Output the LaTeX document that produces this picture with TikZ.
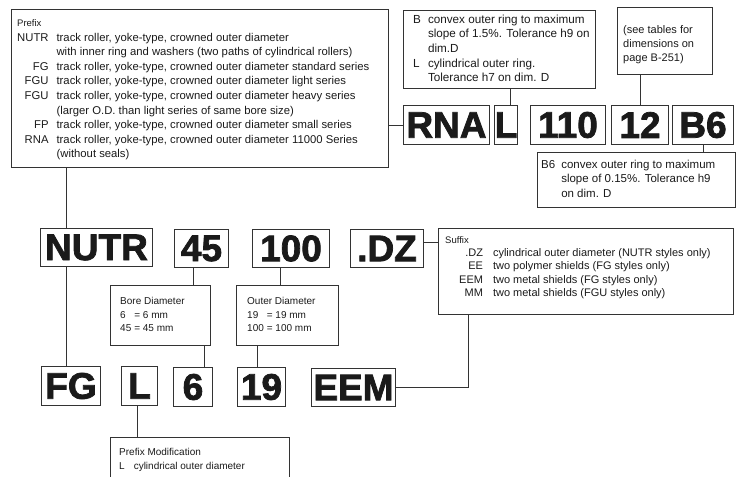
\documentclass[tikz,border=0pt]{standalone}
\usepackage{fontspec}
\setmainfont{Liberation Sans}
\newfontfamily\codefont[FakeBold=2]{Liberation Sans Bold}
\usetikzlibrary{calc}
\definecolor{linecol}{HTML}{333333}
\definecolor{txt}{HTML}{1A1A1A}
\tikzset{
  frame/.style={draw=linecol, line width=1pt, inner sep=0pt, anchor=north west},
  codebox/.style={frame, font=\codefont\fontsize{37}{37}\selectfont, text=txt},
  txtblock/.style={anchor=north west, inner sep=0pt, text=txt, align=left},
  conn/.style={draw=linecol, line width=1pt},
}
\begin{document}
\begin{tikzpicture}[x=1pt,y=-1pt]
\useasboundingbox (0,0) rectangle (737,477);
\clip (0,0) rectangle (737,477);
% ---------- frames ----------
\node[frame, minimum width=377, minimum height=158] (prefixbox) at (11,9) {};
\node[frame, minimum width=192, minimum height=78] (bl) at (403,10) {};
\node[frame, minimum width=95, minimum height=67] (see) at (617,7) {};
\node[frame, minimum width=198, minimum height=55] (b6desc) at (537,152) {};
\node[frame, minimum width=295, minimum height=86] (suffix) at (438,228) {};
\node[frame, minimum width=100, minimum height=60] (bore) at (110,285) {};
\node[frame, minimum width=102, minimum height=60] (outer) at (236,285) {};
\node[frame, minimum width=179, minimum height=60] (pm) at (110,437) {};
% ---------- code boxes ----------
\node[codebox, minimum width=86, minimum height=39] (rna) at (403,105) {RNA};
\node[codebox, minimum width=23, minimum height=39] (ltop) at (494,105) {L};
\node[codebox, minimum width=75, minimum height=39] (n110) at (530,105) {110};
\node[codebox, minimum width=57, minimum height=39] (twelve) at (611,105) {12};
\node[codebox, minimum width=61, minimum height=39] (b6) at (672,105) {B6};
\node[codebox, minimum width=112, minimum height=38] (nutr) at (40,228) {NUTR};
\node[codebox, minimum width=54, minimum height=38] (n45) at (174,229) {45};
\node[codebox, minimum width=77, minimum height=38] (n100) at (252,229) {100};
\node[codebox, minimum width=73, minimum height=38] (dz) at (350,229) {.DZ};
\node[codebox, minimum width=59, minimum height=39] (fg) at (41,366) {FG};
\node[codebox, minimum width=36, minimum height=39] (lbot) at (121,366) {L};
\node[codebox, minimum width=39, minimum height=39] (six) at (173,367) {6};
\node[codebox, minimum width=48, minimum height=39] (nineteen) at (237,367) {19};
\node[codebox, minimum width=84, minimum height=38] (eem) at (311,368) {EEM};
% ---------- texts ----------
\node[txtblock, font=\fontsize{11.3}{14.6}\selectfont] (prefixtxt) at (17,16) {%
\begin{tabular}{@{}r@{\hspace{8pt}}l@{}}
\multicolumn{2}{@{}l}{\fontsize{9.5}{14.6}\selectfont Prefix}\\
NUTR & track roller, yoke-type, crowned outer diameter\\
 & with inner ring and washers (two paths of cylindrical rollers)\\
FG & track roller, yoke-type, crowned outer diameter standard series\\
FGU & track roller, yoke-type, crowned outer diameter light series\\
FGU & track roller, yoke-type, crowned outer diameter heavy series\\
 & (larger O.D. than light series of same bore size)\\
FP & track roller, yoke-type, crowned outer diameter small series\\
RNA & track roller, yoke-type, crowned outer diameter 11000 Series\\
 & (without seals)
\end{tabular}};
\node[txtblock, font=\fontsize{11.7}{14.6}\selectfont] (bltxt) at (413,12.8) {%
\begin{tabular}{@{}l@{\hspace{7pt}}l@{}}
B & convex outer ring to maximum\\
 & slope of 1.5\%. Tolerance h9 on\\
 & dim.D\\
L & cylindrical outer ring.\\
 & Tolerance h7 on dim. D
\end{tabular}};
\node[txtblock, font=\fontsize{11}{14}\selectfont] (seetxt) at (623,23.4) {%
\begin{tabular}{@{}l@{}}
(see tables for\\
dimensions on\\
page B-251)
\end{tabular}};
\node[txtblock, font=\fontsize{11.5}{14.5}\selectfont] (b6txt) at (541,157.8) {%
\begin{tabular}{@{}l@{\hspace{6pt}}l@{}}
B6 & convex outer ring to maximum\\
 & slope of 0.15\%. Tolerance h9\\
 & on dim. D
\end{tabular}};
\node[txtblock, font=\fontsize{11}{13.4}\selectfont] (suffixtxt) at (459,233.6) {%
\begin{tabular}{@{}r@{\hspace{10pt}}l@{}}
\multicolumn{2}{@{\hspace*{-14pt}}l}{\fontsize{9.5}{13.4}\selectfont Suffix}\\
.DZ & cylindrical outer diameter (NUTR styles only)\\
EE & two polymer shields (FG styles only)\\
EEM & two metal shields (FG styles only)\\
MM & two metal shields (FGU styles only)
\end{tabular}};
\node[txtblock, font=\fontsize{10}{13.5}\selectfont] (boretxt) at (120,295) {%
\begin{tabular}{@{}l@{\hspace{3pt}}l@{}}
\multicolumn{2}{@{}l}{Bore Diameter}\\
6 & = 6 mm\\
45 & = 45 mm
\end{tabular}};
\node[txtblock, font=\fontsize{10}{13.5}\selectfont] (outertxt) at (247,295) {%
\begin{tabular}{@{}l@{\hspace{3pt}}l@{}}
\multicolumn{2}{@{}l}{Outer Diameter}\\
19 & = 19 mm\\
100 & = 100 mm
\end{tabular}};
\node[txtblock, font=\fontsize{10}{13.5}\selectfont] (pmtxt) at (119,446) {%
\begin{tabular}{@{}l@{\hspace{9pt}}l@{}}
\multicolumn{2}{@{}l}{Prefix Modification}\\
L & cylindrical outer diameter
\end{tabular}};
% ---------- connectors ----------
\draw[conn] ([xshift=26pt]nutr.north west |- prefixbox.south) -- ([xshift=26pt]nutr.north west);
\draw[conn] ([xshift=26pt]nutr.south west) -- ([xshift=26pt]nutr.south west |- fg.north);
\draw[conn] (prefixbox.east |- rna.west) -- (rna.west);
\draw[conn] ([xshift=16pt]ltop.north west |- bl.south) -- ([xshift=16pt]ltop.north west);
\draw[conn] (twelve.north |- see.south) -- (twelve.north);
\draw[conn] (b6.south) -- (b6.south |- b6desc.north);
\draw[conn] ([yshift=6pt]dz.east) -- ([yshift=6pt]dz.east -| suffix.west);
\draw[conn] ([xshift=30pt]suffix.south west) |- (eem.east);
\draw[conn] ([xshift=19pt]n45.south west) -- ([xshift=19pt]n45.south west |- bore.north);
\draw[conn] ([xshift=-7pt]bore.south east) -- ([xshift=-7pt]bore.south east |- six.north);
\draw[conn] ([xshift=28pt]n100.south west) -- ([xshift=28pt]n100.south west |- outer.north);
\draw[conn] ([xshift=21pt]outer.south west) -- ([xshift=21pt]outer.south west |- nineteen.north);
\draw[conn] ([xshift=16pt]lbot.south west) -- ([xshift=16pt]lbot.south west |- pm.north);
\end{tikzpicture}
\end{document}
